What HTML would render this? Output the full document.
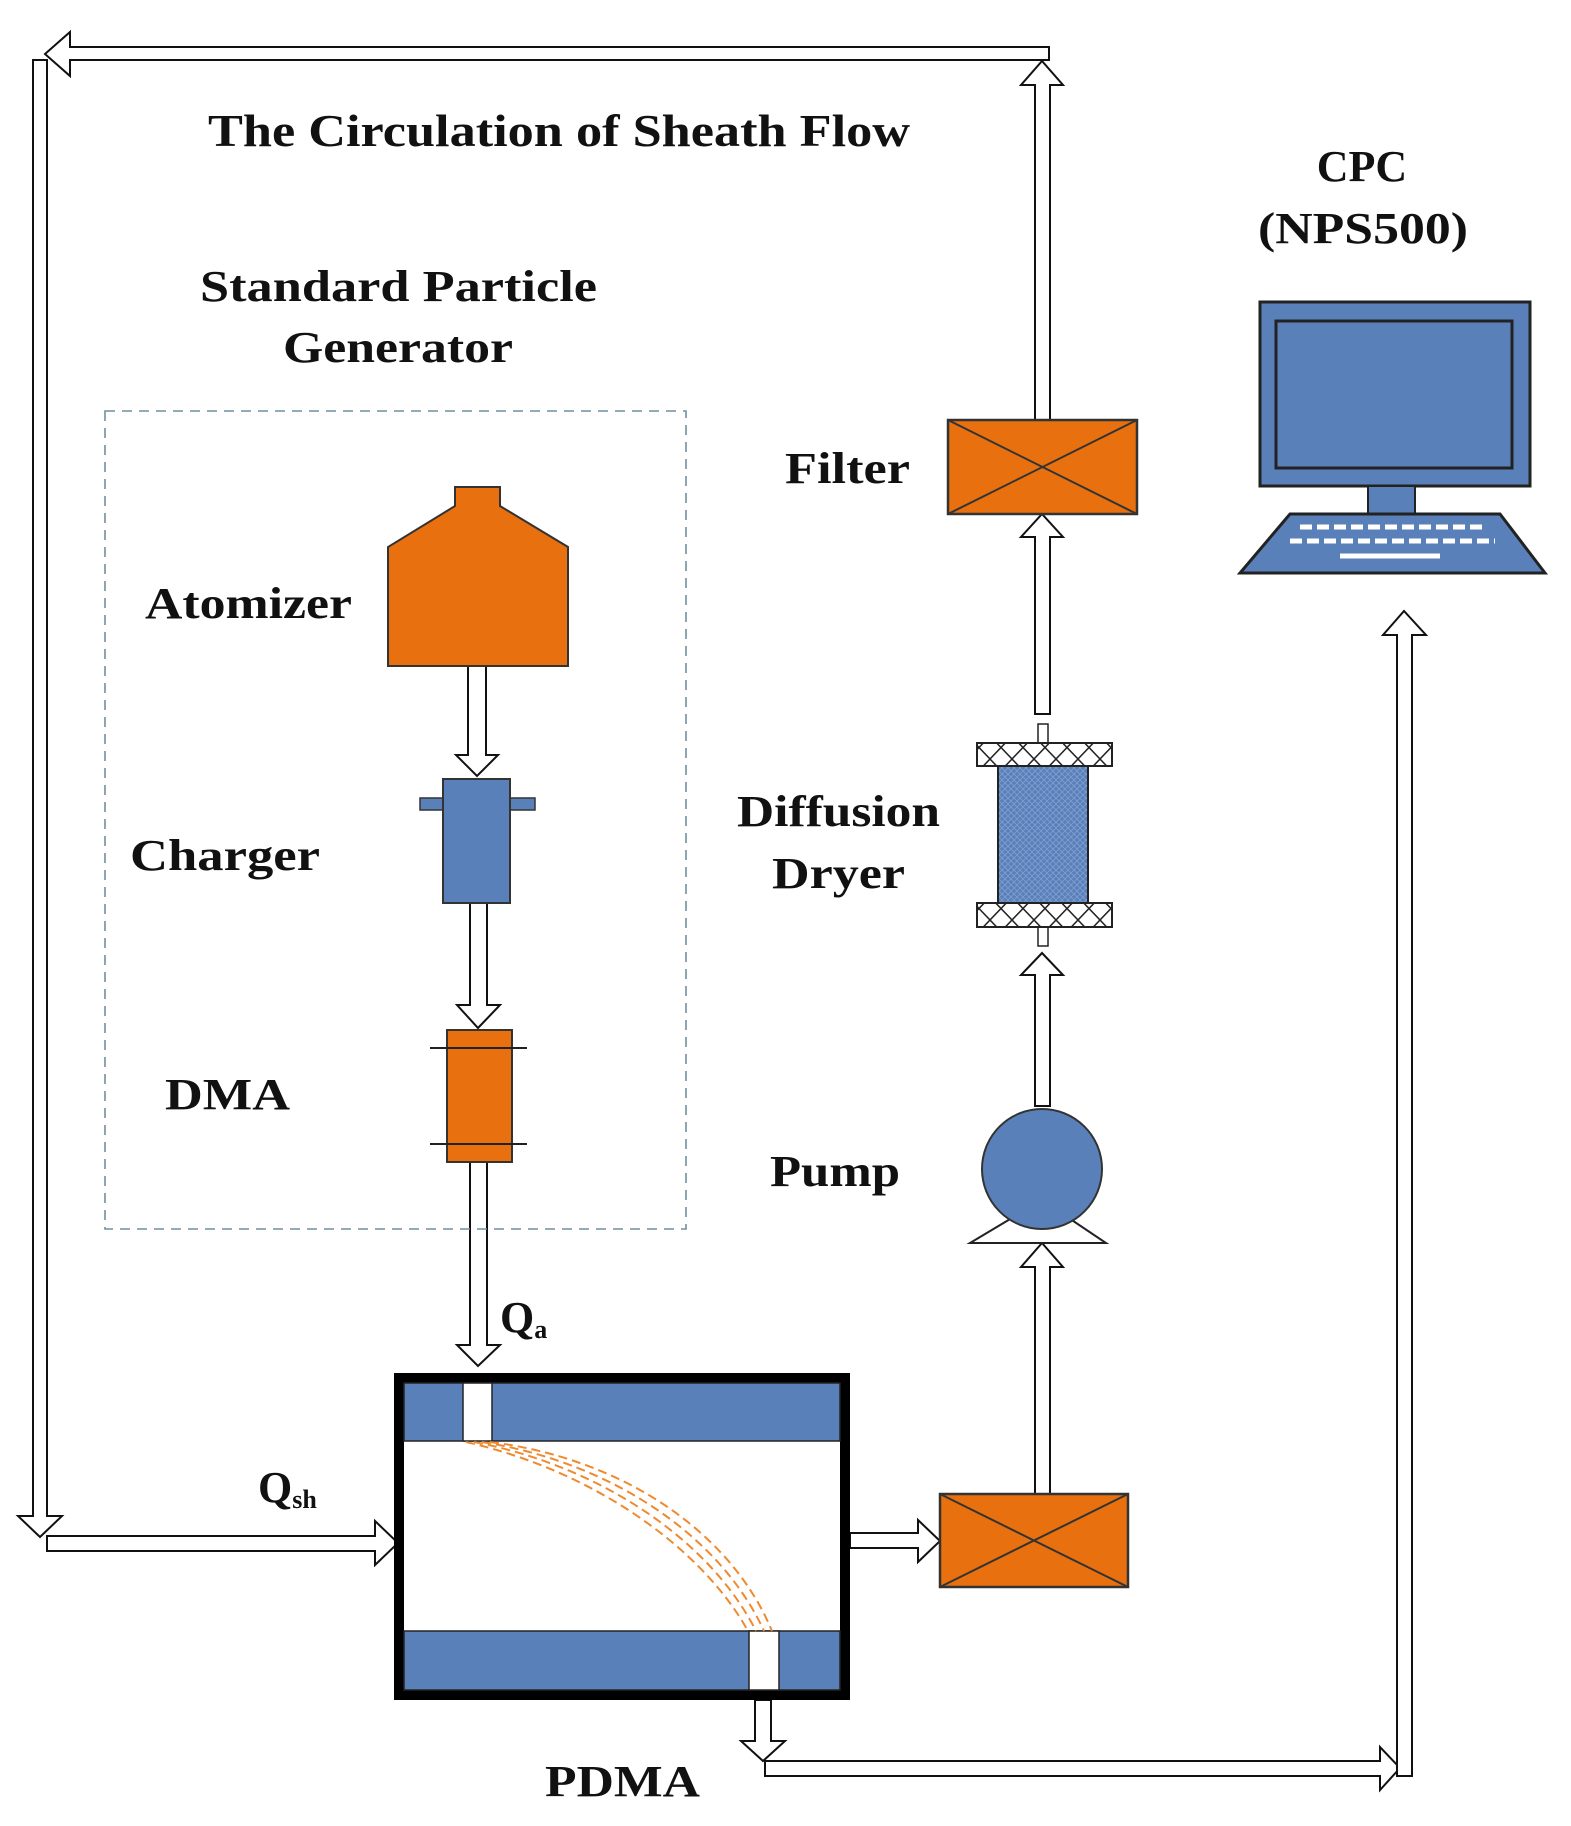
<!DOCTYPE html>
<html><head><meta charset="utf-8"><style>
html,body{margin:0;padding:0;background:#fff;}
svg{display:block;}
text{font-family:"Liberation Serif",serif;font-weight:bold;fill:#111;}
</style></head><body>
<svg width="1571" height="1826" viewBox="0 0 1571 1826" xmlns="http://www.w3.org/2000/svg">
<defs>
<pattern id="hx" width="22" height="23" patternUnits="userSpaceOnUse">
<rect width="22" height="23" fill="#fff"/>
<path d="M0 0L22 23M22 0L0 23" stroke="#222" stroke-width="1.5"/>
</pattern>
<pattern id="dots" width="6" height="6" patternUnits="userSpaceOnUse">
<rect width="6" height="6" fill="#5a80ba"/>
<path d="M0 0L6 6M6 0L0 6" stroke="#7f9fcf" stroke-width="0.8"/>
</pattern>
</defs>
<g fill="#fff" stroke="#111" stroke-width="2">
<polygon points="1049,47 70,47 70,32 45,54 70,76 70,60 1049,60"/>
<polygon points="33,60 47,60 47,1516 62,1516 40,1537 18,1516 33,1516"/>
<polygon points="47,1536 375,1536 375,1521 398,1543 375,1565 375,1551 47,1551"/>
<polygon points="1035,420 1035,85 1021,85 1042,61 1063,85 1050,85 1050,420"/>
<polygon points="1035,714 1035,537 1021,537 1042,514 1063,537 1050,537 1050,714"/>
<polygon points="1035,1106 1035,975 1021,975 1042,953 1063,975 1050,975 1050,1106"/>
<polygon points="1035,1494 1035,1267 1021,1267 1042,1243 1063,1267 1050,1267 1050,1494"/>
<polygon points="850,1533 918,1533 918,1520 940,1541 918,1562 918,1548 850,1548"/>
<polygon points="468,666 486,666 486,755 498,755 477,776 456,755 468,755"/>
<polygon points="470,903 487,903 487,1005 500,1005 478,1028 457,1005 470,1005"/>
<polygon points="470,1162 487,1162 487,1345 500,1345 478,1366 457,1345 470,1345"/>
<polygon points="755,1700 771,1700 771,1741 785,1741 763,1761 741,1741 755,1741"/>
<polygon points="765,1761 1380,1761 1380,1747 1400,1768 1380,1790 1380,1776 765,1776"/>
<polygon points="1397,1776 1397,635 1383,635 1404,611 1426,635 1412,635 1412,1776"/>
</g>
<rect x="105" y="411" width="581" height="818" fill="none" stroke="#6f8fa0" stroke-width="1.6" stroke-dasharray="10,7"/>
<polygon points="455,487 500,487 500,506 568,547 568,666 388,666 388,547 455,506" fill="#e8700f" stroke="#333" stroke-width="2"/>
<rect x="420" y="798" width="115" height="12" fill="#5a80ba" stroke="#333" stroke-width="1.5"/>
<rect x="443" y="779" width="67" height="124" fill="#5a80ba" stroke="#333" stroke-width="2"/>
<rect x="447" y="1030" width="65" height="132" fill="#e8700f" stroke="#333" stroke-width="2"/>
<line x1="430" y1="1048" x2="527" y2="1048" stroke="#222" stroke-width="2"/>
<line x1="430" y1="1144" x2="527" y2="1144" stroke="#222" stroke-width="2"/>
<rect x="948" y="420" width="189" height="94" fill="#e8700f" stroke="#333" stroke-width="2.5"/>
<path d="M948 420L1137 514M1137 420L948 514" stroke="#333" stroke-width="2"/>
<rect x="940" y="1494" width="188" height="93" fill="#e8700f" stroke="#333" stroke-width="2.5"/>
<path d="M940 1494L1128 1587M1128 1494L940 1587" stroke="#333" stroke-width="2"/>
<rect x="1038" y="724" width="10" height="19" fill="#fff" stroke="#222" stroke-width="1.5"/>
<rect x="1038" y="927" width="10" height="19" fill="#fff" stroke="#222" stroke-width="1.5"/>
<rect x="998" y="766" width="90" height="137" fill="url(#dots)" stroke="#222" stroke-width="2"/>
<rect x="977" y="743" width="135" height="23" fill="url(#hx)" stroke="#222" stroke-width="2"/>
<rect x="977" y="903" width="135" height="24" fill="url(#hx)" stroke="#222" stroke-width="2"/>
<polygon points="1042,1200 1106,1243 970,1243" fill="#fff" stroke="#222" stroke-width="2"/>
<ellipse cx="1042" cy="1169" rx="60" ry="60" fill="#5a80ba" stroke="#333" stroke-width="2"/>
<rect x="399" y="1378" width="446" height="317" fill="#fff" stroke="#000" stroke-width="10"/>
<rect x="404" y="1383" width="436" height="58" fill="#5a80ba" stroke="#222" stroke-width="1.5"/>
<rect x="463" y="1383" width="29" height="58" fill="#fff" stroke="#222" stroke-width="1.5"/>
<rect x="404" y="1631" width="436" height="59" fill="#5a80ba" stroke="#222" stroke-width="1.5"/>
<rect x="749" y="1631" width="30" height="59" fill="#fff" stroke="#222" stroke-width="1.5"/>
<g fill="none" stroke="#ee8a30" stroke-width="2" stroke-dasharray="9,5">
<path d="M466 1442 C590 1470 700 1545 748 1631"/>
<path d="M474 1442 C600 1466 710 1540 756 1631"/>
<path d="M482 1442 C610 1462 720 1535 764 1631"/>
<path d="M490 1442 C620 1458 730 1530 772 1631"/>
</g>
<rect x="1260" y="302" width="270" height="184" fill="#5a80ba" stroke="#222" stroke-width="3"/>
<rect x="1276" y="321" width="236" height="147" fill="#5a80ba" stroke="#222" stroke-width="3"/>
<rect x="1368" y="486" width="47" height="28" fill="#5a80ba" stroke="#222" stroke-width="2"/>
<polygon points="1290,514 1500,514 1545,573 1240,573" fill="#5a80ba" stroke="#222" stroke-width="3"/>
<g stroke="#fff" stroke-width="5" stroke-dasharray="12,5">
<line x1="1300" y1="527" x2="1485" y2="527"/>
<line x1="1290" y1="541" x2="1495" y2="541"/>
</g>
<line x1="1340" y1="556" x2="1440" y2="556" stroke="#fff" stroke-width="5"/>
<text x="208" y="146" font-size="46" textLength="702" lengthAdjust="spacingAndGlyphs">The Circulation of Sheath Flow</text>
<text x="1362" y="181" font-size="44" text-anchor="middle">CPC</text>
<text x="1258" y="243" font-size="44" textLength="210" lengthAdjust="spacingAndGlyphs">(NPS500)</text>
<text x="200" y="301" font-size="44" textLength="397" lengthAdjust="spacingAndGlyphs">Standard Particle</text>
<text x="283" y="362" font-size="44" textLength="230" lengthAdjust="spacingAndGlyphs">Generator</text>
<text x="785" y="483" font-size="44" textLength="125" lengthAdjust="spacingAndGlyphs">Filter</text>
<text x="145" y="618" font-size="44" textLength="207" lengthAdjust="spacingAndGlyphs">Atomizer</text>
<text x="737" y="826" font-size="44" textLength="203" lengthAdjust="spacingAndGlyphs">Diffusion</text>
<text x="772" y="888" font-size="44" textLength="133" lengthAdjust="spacingAndGlyphs">Dryer</text>
<text x="130" y="870" font-size="44" textLength="190" lengthAdjust="spacingAndGlyphs">Charger</text>
<text x="165" y="1109" font-size="44" textLength="125" lengthAdjust="spacingAndGlyphs">DMA</text>
<text x="770" y="1186" font-size="44" textLength="130" lengthAdjust="spacingAndGlyphs">Pump</text>
<text x="500" y="1332" font-size="44">Q<tspan font-size="26" dy="6">a</tspan></text>
<text x="258" y="1502" font-size="44">Q<tspan font-size="26" dy="6">sh</tspan></text>
<text x="545" y="1796" font-size="44" textLength="155" lengthAdjust="spacingAndGlyphs">PDMA</text>
</svg>
</body></html>
